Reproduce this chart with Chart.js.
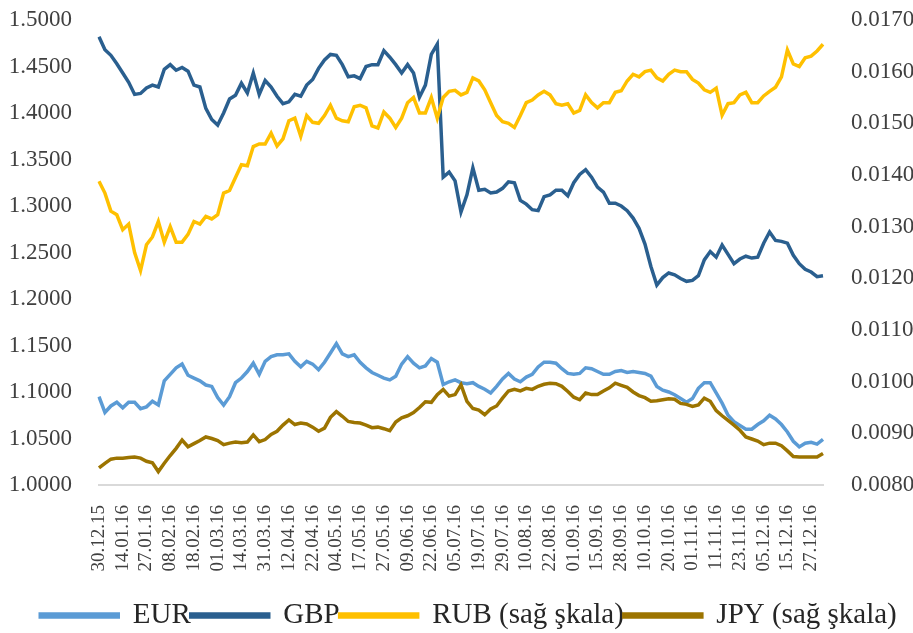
<!DOCTYPE html>
<html>
<head>
<meta charset="utf-8">
<script src="https://cdn.jsdelivr.net/npm/chart.js@4.4.1/dist/chart.umd.min.js"></script>
<style>
    body { margin: 0; background: #ffffff; }
    #wrap { width: 913px; height: 633px; position: relative; }
</style>
</head>
<body>
<div id="wrap"><canvas id="fxChart"></canvas></div>
<script>
// tick dates (every 4th point carries a label)
const tickDates = ['30.12.15', '14.01.16', '27.01.16', '08.02.16', '18.02.16', '01.03.16', '14.03.16', '31.03.16',
    '12.04.16', '22.04.16', '04.05.16', '17.05.16', '27.05.16', '09.06.16', '22.06.16', '05.07.16', '19.07.16',
    '29.07.16', '10.08.16', '22.08.16', '01.09.16', '15.09.16', '28.09.16', '10.10.16', '20.10.16', '01.11.16',
    '11.11.16', '23.11.16', '05.12.16', '15.12.16', '27.12.16'];
const pointsPerTick = 4;

const leftTicks = [1.0, 1.05, 1.1, 1.15, 1.2, 1.25, 1.3, 1.35, 1.4, 1.45, 1.5];
const rightTicks = [0.008, 0.009, 0.010, 0.011, 0.012, 0.013, 0.014, 0.015, 0.016, 0.017];

const eur = [1.095, 1.078, 1.085, 1.089, 1.083, 1.089, 1.089, 1.082, 1.084, 1.090,
    1.086, 1.112, 1.119, 1.126, 1.130, 1.118, 1.115, 1.112, 1.1075, 1.106,
    1.094, 1.086, 1.095, 1.110, 1.115, 1.122, 1.131, 1.119, 1.133, 1.138,
    1.140, 1.140, 1.141, 1.133, 1.127, 1.133, 1.130, 1.124, 1.132, 1.142,
    1.152, 1.141, 1.138, 1.140, 1.132, 1.126, 1.121, 1.118, 1.115, 1.113,
    1.117, 1.130, 1.138, 1.131, 1.126, 1.128, 1.136, 1.132, 1.108, 1.111,
    1.113, 1.110, 1.109, 1.110, 1.106, 1.103, 1.099, 1.106, 1.114, 1.120,
    1.114, 1.111, 1.116, 1.119, 1.127, 1.132, 1.132, 1.131, 1.125, 1.120,
    1.119, 1.120, 1.126, 1.125, 1.122, 1.119, 1.119, 1.122, 1.123, 1.121,
    1.122, 1.121, 1.120, 1.117, 1.106, 1.102, 1.100, 1.097, 1.093, 1.089,
    1.093, 1.104, 1.110, 1.110, 1.099, 1.088, 1.075, 1.068, 1.064, 1.060,
    1.060, 1.065, 1.069, 1.075, 1.071, 1.065, 1.057, 1.047, 1.041, 1.045,
    1.046, 1.044, 1.049];

const gbp = [1.482, 1.468, 1.462, 1.453, 1.443, 1.433, 1.420, 1.421, 1.427, 1.430,
    1.428, 1.447, 1.452, 1.446, 1.449, 1.445, 1.430, 1.428, 1.405, 1.393,
    1.387, 1.400, 1.415, 1.419, 1.432, 1.4215, 1.443, 1.420, 1.435, 1.428,
    1.418, 1.410, 1.412, 1.420, 1.418, 1.430, 1.436, 1.448, 1.457, 1.463,
    1.462, 1.452, 1.439, 1.440, 1.437, 1.450, 1.452, 1.452, 1.467, 1.460,
    1.452, 1.443, 1.452, 1.443, 1.417, 1.430, 1.463, 1.474, 1.331, 1.3365,
    1.327, 1.2935, 1.312, 1.341, 1.317, 1.318, 1.314, 1.315, 1.319, 1.326,
    1.325, 1.306, 1.302, 1.296, 1.295, 1.310, 1.312, 1.317, 1.317, 1.311,
    1.325, 1.334, 1.339, 1.331, 1.3204, 1.315, 1.303, 1.303, 1.300, 1.295,
    1.287, 1.276, 1.259, 1.235, 1.215, 1.223, 1.228, 1.226, 1.222, 1.219,
    1.220, 1.225, 1.242, 1.251, 1.245, 1.258, 1.248, 1.238, 1.243, 1.246,
    1.244, 1.245, 1.260, 1.272, 1.263, 1.262, 1.260, 1.247, 1.238, 1.232,
    1.229, 1.224, 1.225];

const rub = [0.01388, 0.01365, 0.01330, 0.01323, 0.01294, 0.01305, 0.01250, 0.01215, 0.01265, 0.01280,
    0.01310, 0.01270, 0.01300, 0.01270, 0.01270, 0.01285, 0.01310, 0.01305, 0.01320, 0.01315,
    0.01323, 0.01365, 0.01370, 0.01395, 0.01420, 0.01418, 0.01455, 0.01460, 0.01460, 0.01481,
    0.01456, 0.01470, 0.01505, 0.01510, 0.01475, 0.01515, 0.01502, 0.01500, 0.01515, 0.01535,
    0.01510, 0.01505, 0.01503, 0.01532, 0.01535, 0.01530, 0.01495, 0.01491, 0.01522, 0.01510,
    0.01492, 0.01510, 0.01540, 0.01550, 0.01520, 0.01520, 0.01550, 0.01510, 0.01550, 0.01562,
    0.01564, 0.01555, 0.01560, 0.01588, 0.01582, 0.01565, 0.01540, 0.01515, 0.01503, 0.01500,
    0.01492, 0.01515, 0.01540, 0.01545, 0.01555, 0.01562, 0.01555, 0.01538, 0.01535, 0.01538,
    0.01520, 0.01525, 0.01555, 0.01540, 0.01530, 0.01540, 0.01540, 0.01560, 0.01563, 0.01582,
    0.01595, 0.01590, 0.01600, 0.01603, 0.01588, 0.01582, 0.01595, 0.01603, 0.01600, 0.01600,
    0.01585, 0.01578, 0.01565, 0.01560, 0.01568, 0.01516, 0.01538, 0.01540, 0.01555, 0.01560,
    0.01540, 0.01540, 0.01553, 0.01562, 0.01570, 0.01590, 0.01642, 0.01615, 0.01610, 0.01627,
    0.01630, 0.01640, 0.01653];

const jpy = [0.00833, 0.00842, 0.00850, 0.00852, 0.00852, 0.00853, 0.00854, 0.00852, 0.00846, 0.00843,
    0.00826, 0.00842, 0.00857, 0.00871, 0.00887, 0.00874, 0.00880, 0.00886, 0.00893, 0.00890,
    0.00886, 0.00878, 0.00881, 0.00883, 0.00882, 0.00883, 0.00897, 0.00884, 0.00888, 0.00898,
    0.00904, 0.00916, 0.00926, 0.00917, 0.00920, 0.00918, 0.00912, 0.00904, 0.00910, 0.00931,
    0.00942, 0.00933, 0.00923, 0.00921, 0.00920, 0.00916, 0.00911, 0.00912, 0.00909, 0.00905,
    0.00922, 0.00930, 0.00934, 0.00940, 0.00950, 0.00961, 0.00960, 0.00975, 0.00985, 0.00972,
    0.00975, 0.00994, 0.00962, 0.00948, 0.00945, 0.00936, 0.00947, 0.00953, 0.00968, 0.00982,
    0.00985, 0.00982, 0.00987, 0.00985, 0.00991, 0.00995, 0.00997, 0.00996, 0.00991, 0.00981,
    0.00970, 0.00965, 0.00978, 0.00975, 0.00975, 0.00982, 0.00988, 0.00997, 0.00993, 0.00989,
    0.00980, 0.00973, 0.00969, 0.00962, 0.00963, 0.00965, 0.00967, 0.00966, 0.00958, 0.00956,
    0.00952, 0.00955, 0.00968, 0.00962, 0.00944, 0.00934, 0.00925, 0.00916, 0.00906, 0.00893,
    0.00889, 0.00885, 0.00878, 0.00881, 0.00881, 0.00876, 0.00866, 0.00855, 0.00854, 0.00854,
    0.00854, 0.00854, 0.00861];

// category list: label on every 4th point, blank otherwise
const categories = eur.map(function (v, i) {
    return i % pointsPerTick === 0 ? (tickDates[i / pointsPerTick] || '') : '';
});

Chart.defaults.font.family = "'Liberation Serif', 'Times New Roman', serif";
Chart.defaults.color = '#404040';

function line(label, data, color, axis, order) {
    return {
        label: label,
        data: data,
        yAxisID: axis,
        borderColor: color,
        backgroundColor: color,
        borderWidth: 3.5,
        pointRadius: 0,
        tension: 0,
        order: order
    };
}

// nudge the legend a little lower and to the right, like the original
const legendShift = {
    id: 'legendShift',
    afterLayout: function (chart) {
        const lg = chart.legend;
        if (!lg) return;
        lg.top += 7; lg.bottom += 7;
        lg.left += 12; lg.right += 12;
    }
};

// y axes: no extra space above the top tick
function fixAxis(width) {
    return function (scale) {
        scale.width = width;
        scale.paddingTop = 0;
        scale.paddingBottom = 0;
    };
}

const ctx = document.getElementById('fxChart').getContext('2d');
new Chart(ctx, {
    type: 'line',
    data: {
        labels: categories,
        datasets: [
            line('EUR', eur, '#5B9BD5', 'yLeft', 4),
            line('GBP', gbp, '#2A5F8F', 'yLeft', 3),
            line('RUB (sağ şkala)', rub, '#FFC000', 'yRight', 2),
            line('JPY (sağ şkala)', jpy, '#9C7400', 'yRight', 1)
        ]
    },
    plugins: [legendShift],
    options: {
        responsive: true,
        maintainAspectRatio: false,
        animation: false,
        layout: { padding: { top: 20, left: 0, right: 0, bottom: 0 } },
        plugins: {
            tooltip: { enabled: false },
            legend: {
                position: 'bottom',
                labels: {
                    font: { size: 29 },
                    color: '#262626',
                    boxWidth: 78,
                    boxHeight: 3,
                    padding: 0,
                    sort: function (a, b) { return a.datasetIndex - b.datasetIndex; }
                }
            }
        },
        scales: {
            x: {
                offset: false,
                grid: { display: false },
                border: { display: true, color: '#d9d9d9', width: 2 },
                ticks: {
                    autoSkip: false,
                    minRotation: 90,
                    maxRotation: 90,
                    padding: 12,
                    font: { size: 19 },
                    color: '#404040'
                },
                afterFit: function (scale) { scale.height = 109; }
            },
            yLeft: {
                position: 'left',
                min: leftTicks[0],
                max: leftTicks[leftTicks.length - 1],
                grid: { display: false },
                border: { display: false },
                ticks: {
                    padding: 19,
                    font: { size: 23 },
                    color: '#404040',
                    callback: function (v) { return v.toFixed(4); }
                },
                afterBuildTicks: function (scale) { scale.ticks = leftTicks.map(function (v) { return { value: v }; }); },
                afterFit: fixAxis(99)
            },
            yRight: {
                position: 'right',
                min: rightTicks[0],
                max: rightTicks[rightTicks.length - 1],
                grid: { display: false },
                border: { display: false },
                ticks: {
                    padding: 20,
                    font: { size: 23 },
                    color: '#404040',
                    callback: function (v) { return v.toFixed(4); }
                },
                afterBuildTicks: function (scale) { scale.ticks = rightTicks.map(function (v) { return { value: v }; }); },
                afterFit: fixAxis(90)
            }
        }
    }
});
</script>
</body>
</html>
